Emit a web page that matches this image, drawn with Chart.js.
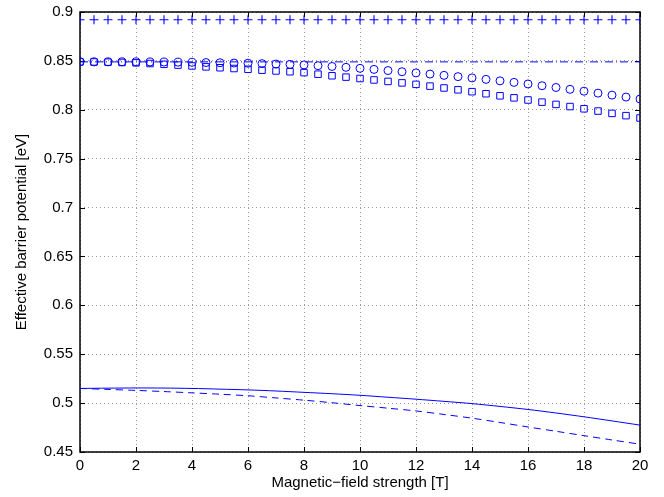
<!DOCTYPE html>
<html>
<head>
<meta charset="utf-8">
<script src="https://cdn.jsdelivr.net/npm/chart.js@4/dist/chart.umd.min.js"></script>
<style>
html,body{margin:0;padding:0;background:#fff;}
#wrap{width:664px;height:497px;position:relative;}
</style>
</head>
<body>
<div id="wrap"><canvas id="c" width="664" height="497"></canvas></div>
<script>
// ---- data ----
const fieldHalf = [0,0.5,1,1.5,2,2.5,3,3.5,4,4.5,5,5.5,6,6.5,7,7.5,8,8.5,9,9.5,10,10.5,11,11.5,12,12.5,13,13.5,14,14.5,15,15.5,16,16.5,17,17.5,18,18.5,19,19.5,20];
const fieldInt = [0,1,2,3,4,5,6,7,8,9,10,11,12,13,14,15,16,17,18,19,20];

const plusSeries = [0.892,0.892,0.892,0.892,0.892,0.892,0.892,0.892,0.892,0.892,0.892,0.892,0.892,0.892,0.892,0.892,0.892,0.892,0.892,0.892,0.892,0.892,0.892,0.892,0.892,0.892,0.892,0.892,0.892,0.892,0.892,0.892,0.892,0.892,0.892,0.892,0.892,0.892,0.892,0.892,0.892];
const dashDotSeries = [0.849,0.849,0.849,0.849,0.849,0.849,0.849,0.849,0.849,0.849,0.849,0.849,0.849,0.849,0.849,0.849,0.849,0.849,0.849,0.849,0.849];
const circleSeries = [0.849,0.849,0.849,0.849,0.849,0.8489,0.8488,0.8487,0.8485,0.8483,0.8481,0.8478,0.8476,0.8472,0.8468,0.8464,0.8459,0.8451,0.8443,0.8434,0.8424,0.8413,0.8401,0.8389,0.8377,0.8365,0.8352,0.8339,0.8326,0.8311,0.8296,0.828,0.8264,0.8246,0.8228,0.8209,0.819,0.817,0.815,0.813,0.811];
const squareSeries = [0.849,0.8489,0.8487,0.8484,0.848,0.8473,0.8465,0.8457,0.8448,0.8439,0.843,0.8422,0.8414,0.8405,0.8397,0.8389,0.838,0.8364,0.8348,0.8334,0.832,0.8305,0.829,0.8275,0.826,0.8242,0.8223,0.8204,0.8185,0.8164,0.8143,0.8122,0.810,0.8078,0.8055,0.8033,0.801,0.7987,0.7963,0.794,0.7916];
const solidSeries = [0.515,0.5153,0.5155,0.5154,0.515,0.5143,0.5135,0.5124,0.511,0.5096,0.508,0.506,0.504,0.5018,0.4995,0.4966,0.4935,0.4899,0.486,0.4818,0.4775];
const dashedSeries = [0.515,0.514,0.513,0.5118,0.5105,0.5091,0.5075,0.5053,0.503,0.5004,0.4975,0.4948,0.492,0.4884,0.4846,0.4802,0.4756,0.4712,0.4667,0.4623,0.458];

const xTickLabels = ['0','2','4','6','8','10','12','14','16','18','20'];
const yTickLabels = ['0.45','0.5','0.55','0.6','0.65','0.7','0.75','0.8','0.85','0.9'];

const blue = '#0000ff';
const FONT = 'Liberation Sans, Arial, sans-serif';
const pts = (xs, ys) => xs.map((x, i) => ({x: x, y: ys[i]}));

const framePlugin = {
  id: 'frame',
  beforeDatasetsDraw(chart) {
    const {ctx, chartArea: a, scales} = chart;
    ctx.save();
    ctx.strokeStyle = '#000';
    ctx.lineWidth = 1;
    const L = 5;
    ctx.beginPath();
    scales.x.ticks.forEach(t => {
      const px = Math.round(scales.x.getPixelForValue(t.value)) + 0.5;
      ctx.moveTo(px, a.bottom); ctx.lineTo(px, a.bottom - L);
      ctx.moveTo(px, a.top); ctx.lineTo(px, a.top + L);
    });
    scales.y.ticks.forEach(t => {
      const py = Math.round(scales.y.getPixelForValue(t.value)) + 0.5;
      ctx.moveTo(a.left, py); ctx.lineTo(a.left + L, py);
      ctx.moveTo(a.right, py); ctx.lineTo(a.right - L, py);
    });
    ctx.stroke();
    ctx.lineWidth = 1.5;
    ctx.strokeRect(a.left, a.top, a.right - a.left, a.bottom - a.top);
    ctx.restore();
  }
};

new Chart(document.getElementById('c'), {
  type: 'scatter',
  data: {
    datasets: [
      {data: pts(fieldHalf, plusSeries), pointStyle: 'cross', pointRadius: 4.5, borderColor: blue, borderWidth: 1.1, showLine: false},
      {data: pts(fieldInt, dashDotSeries), showLine: true, pointRadius: 0, borderColor: blue, borderWidth: 1, borderDash: [8,3,1,3]},
      {data: pts(fieldHalf, circleSeries), pointStyle: 'circle', pointRadius: 4, borderColor: blue, backgroundColor: 'rgba(0,0,0,0)', borderWidth: 1, showLine: false},
      {data: pts(fieldHalf, squareSeries), pointStyle: 'rect', pointRadius: 4.6, borderColor: blue, backgroundColor: 'rgba(0,0,0,0)', borderWidth: 1, showLine: false},
      {data: pts(fieldInt, solidSeries), showLine: true, pointRadius: 0, borderColor: blue, borderWidth: 1, tension: 0.3},
      {data: pts(fieldInt, dashedSeries), showLine: true, pointRadius: 0, borderColor: blue, borderWidth: 1, borderDash: [7,5], tension: 0.3}
    ]
  },
  options: {
    responsive: false,
    animation: false,
    events: [],
    layout: {padding: {top: 12, right: 24, left: 0, bottom: 0}},
    plugins: {legend: {display: false}, tooltip: {enabled: false}},
    scales: {
      x: {
        type: 'linear', min: 0, max: 20,
        afterFit: s => { s.height = 45; s.paddingLeft = 0; s.paddingRight = 0; },
        afterBuildTicks: s => { s.ticks = xTickLabels.map(v => ({value: parseFloat(v)})); },
        ticks: {color: '#000', font: {family: FONT, size: 15}, padding: 5, maxRotation: 0,
          callback: (v) => xTickLabels[xTickLabels.indexOf(String(v))] ?? ''},
        grid: {color: '#9a9a9a', lineWidth: 1, drawTicks: false},
        border: {display: false, dash: [1,3]},
        title: {display: true, text: 'Magnetic\u2212field strength [T]', color: '#000', font: {family: FONT, size: 15}, padding: {top: 0, bottom: 5}}
      },
      y: {
        type: 'linear', min: 0.45, max: 0.9,
        afterFit: s => { s.width = 80; s.paddingTop = 0; s.paddingBottom = 0; },
        afterBuildTicks: s => { s.ticks = yTickLabels.map(v => ({value: parseFloat(v)})); },
        ticks: {color: '#000', font: {family: FONT, size: 15}, padding: 7,
          callback: (v) => { const s = String(parseFloat(Number(v).toFixed(2))); return yTickLabels.includes(s) ? s : ''; }},
        grid: {color: '#9a9a9a', lineWidth: 1, drawTicks: false},
        border: {display: false, dash: [1,3]},
        title: {display: true, text: 'Effective barrier potential [eV]', color: '#000', font: {family: FONT, size: 15}, padding: {top: 13, bottom: 0}}
      }
    }
  },
  plugins: [framePlugin]
});
</script>
</body>
</html>
